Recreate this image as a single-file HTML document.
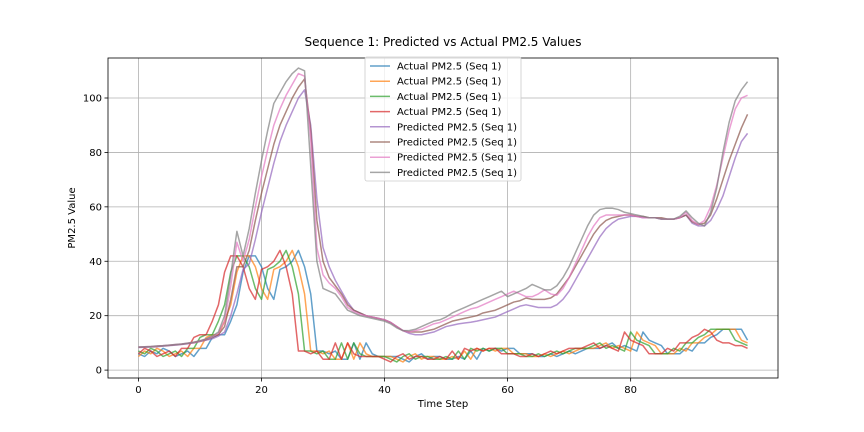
<!DOCTYPE html>
<html><head><meta charset="utf-8"><style>
body{margin:0;background:#fff;}
svg{display:block;font-family:"DejaVu Sans","Liberation Sans",sans-serif;}
</style></head><body>
<svg id="chart" width="864" height="432"></svg>
<script>
const timeSteps = Array.from({length:100},(_,i)=>i);
const xTicks = [0,20,40,60,80];
const yTicks = [0,20,40,60,80,100];
const actual1 = [6,5,7,6,8,7,5,6,7,5,8,8,12,13,13,18,24,36,42,42,38,30,26,37,38,40,44,38,28,7,7,6,7,4,4,10,4,10,6,5,5,5,5,4,3,5,6,4,5,5,4,4,5,4,7,4,8,7,8,7,8,8,6,6,6,5,5,6,5,6,7,6,7,8,8,8,9,10,8,9,8,7,14,11,10,9,6,6,6,8,7,10,10,12,13,15,15,15,15,11];
const actual2 = [5,7,6,8,7,5,6,7,5,8,8,12,13,13,18,24,36,42,42,38,30,26,37,38,40,44,38,28,7,7,6,7,4,4,10,4,10,6,5,5,5,5,4,3,5,6,4,5,5,4,4,5,4,7,4,8,7,8,7,8,8,6,6,6,5,5,6,5,6,7,6,7,8,8,8,9,10,8,9,8,7,14,11,10,9,6,6,6,8,7,10,10,12,13,15,15,15,15,11,10];
const actual3 = [7,6,8,7,5,6,7,5,8,8,12,13,13,18,24,36,42,42,38,30,26,37,38,40,44,38,28,7,7,6,7,4,4,10,4,10,6,5,5,5,5,4,3,5,6,4,5,5,4,4,5,4,7,4,8,7,8,7,8,8,6,6,6,5,5,6,5,6,7,6,7,8,8,8,9,10,8,9,8,7,14,11,10,9,6,6,6,8,7,10,10,12,13,15,15,15,15,11,10,9];
const actual4 = [6,8,7,5,6,7,5,8,8,12,13,13,18,24,36,42,42,38,30,26,37,38,40,44,38,28,7,7,6,7,4,4,10,4,10,6,5,5,5,5,4,3,5,6,4,5,5,4,4,5,4,7,4,8,7,8,7,8,8,6,6,6,5,5,6,5,6,7,6,7,8,8,8,9,10,8,9,8,7,14,11,10,9,6,6,6,8,7,10,10,12,13,15,14,11,10,10,9,9,8];
const pred1 = [8.3,8.4,8.5,8.6,8.8,9,9.2,9.4,9.7,10,10.5,11,11.5,12.5,14,20,28,37,39,48,58,67,76,84,90,95,100,103,90,63,45,38,33,29,25,22,21,20,19.5,19,18.5,17.5,16,14.5,13.5,13,13,13.5,14,15,16,16.5,17,17.3,17.6,18,18.5,19,19.5,20.5,21.5,22.5,23.5,24,23.5,23,23,23,24,26,29,33,37,41,45,49,52,54,55.5,56,56.5,56.5,56,56,56,55.5,55.5,55.5,56,57,54,53,53,55,59,64,71,78,84,87];
const pred2 = [8.4,8.5,8.6,8.7,8.9,9.1,9.3,9.5,9.8,10.1,10.6,11.2,12,13,16,26,38,38,44,55,65,74,83,90,95,100,104,107,88,55,40,34,31,28,24,22,21,20,19.5,19,18.5,17.5,16,14.5,14,14,14,14.5,15,16,17,18,18.5,19,19.5,20,21,21.5,22,23,24,25,25.5,26.5,26,26,26,26.5,28,31,34,38,42,46,50,53,55,56,56.5,57,57,56.5,56.5,56,56,56,55.5,55.5,56,57,54.5,53.5,54,57,63,70,77,83,89,94];
const pred3 = [8.5,8.6,8.7,8.8,9,9.2,9.4,9.6,9.9,10.2,10.7,11.4,12.2,13.5,18,31,47,40,48,60,71,81,90,96,101,105,109,108,85,45,35,32,30,27,23,21.5,20.5,20,19.5,19,18.5,17.5,16,14.5,14,14.5,15,16,17,17.5,18.5,19.5,20.5,21.5,22.5,23,24,25,26,27,28,29,28,27,27,28,29.5,28,27.5,30,34,39,44,49,53,56,57,57,57,57,57,56.5,56,56,56,55.5,55.5,55.5,56,58,55,53.5,55,60,68,78,88,96,100,101];
const pred4 = [8.5,8.6,8.7,8.9,9,9.2,9.4,9.6,9.9,10.3,10.8,11.5,12.5,14,20,35,51,42,52,65,77,88,98,102,106,109,111,110,75,40,30,29,28,25,22,21,20,19.5,19,18.5,18,17,15.5,14.5,14.5,15,16,17,18,18.5,19.5,21,22,23,24,25,26,27,28,29,27,28,29,30,31.5,30.5,29.5,29.5,31,34,38,43,48,53,57,59,59.5,59.5,59,58,57.5,57,56.5,56,56,55.5,55.5,55.5,56.5,58.5,56,54,53,58,67,80,91,99,103,106];
const seriesLabels = ["Actual PM2.5 (Seq 1)","Actual PM2.5 (Seq 1)","Actual PM2.5 (Seq 1)","Actual PM2.5 (Seq 1)","Predicted PM2.5 (Seq 1)","Predicted PM2.5 (Seq 1)","Predicted PM2.5 (Seq 1)","Predicted PM2.5 (Seq 1)"];
const seriesData = [actual1,actual2,actual3,actual4,pred1,pred2,pred3,pred4];
const colors = ["#1f77b4","#ff7f0e","#2ca02c","#d62728","#9467bd","#8c564b","#e377c2","#7f7f7f"];

const L=108,R=778,T=58,B=378;
const xMin=-4.95,xMax=103.95,yMin=-2.9,yMax=114.7;
const xs=v=>L+(v-xMin)/(xMax-xMin)*(R-L);
const ys=v=>B-(v-yMin)/(yMax-yMin)*(B-T);
const NS="http://www.w3.org/2000/svg";
const svg=document.getElementById('chart');
function mk(tag,attrs,parent){const e=document.createElementNS(NS,tag);for(const k in attrs)e.setAttribute(k,attrs[k]);(parent||svg).appendChild(e);return e;}

const grid=mk('g',{});


xTicks.forEach(t=>{mk('line',{x1:xs(t),x2:xs(t),y1:T,y2:B,stroke:'#b0b0b0','stroke-width':0.8},grid);});
yTicks.forEach(t=>{mk('line',{x1:L,x2:R,y1:ys(t),y2:ys(t),stroke:'#b0b0b0','stroke-width':0.8},grid);});

const xAxis=mk('g',{});


xTicks.forEach(t=>{mk('line',{x1:xs(t),x2:xs(t),y1:B,y2:B+3.5,stroke:'#000','stroke-width':0.8},xAxis);
 const tx=mk('text',{x:xs(t),y:B+15,'text-anchor':'middle','font-size':10},xAxis);tx.textContent=t;});
const yAxis=mk('g',{});


yTicks.forEach(t=>{mk('line',{x1:L-3.5,x2:L,y1:ys(t),y2:ys(t),stroke:'#000','stroke-width':0.8},yAxis);
 const tx=mk('text',{x:L-6,y:ys(t)+3.5,'text-anchor':'end','font-size':10},yAxis);tx.textContent=t;});

const lines=mk('g',{});


seriesData.forEach((arr,si)=>{
 const d=arr.map((v,i)=>(i?'L':'M')+xs(timeSteps[i]).toFixed(2)+','+ys(v).toFixed(2)).join('');
 const p=mk('path',{d:d,fill:'none',stroke:colors[si],'stroke-width':1.5,'stroke-opacity':0.7,'stroke-linejoin':'round'},lines);
 
 
});

const frame=mk('rect',{x:L,y:T,width:R-L,height:B-T,fill:'none',stroke:'#000','stroke-width':0.8});



const title=mk('text',{x:(L+R)/2,y:46,'text-anchor':'middle','font-size':12});
title.textContent='Sequence 1: Predicted vs Actual PM2.5 Values';


const xl=mk('text',{x:(L+R)/2,y:407,'text-anchor':'middle','font-size':10});
xl.textContent='Time Step';


const yl=mk('text',{x:0,y:0,'text-anchor':'middle','font-size':10,transform:'translate(75,218) rotate(-90)'});
yl.textContent='PM2.5 Value';



const legend=mk('g',{});


mk('rect',{x:365,y:57,width:156,height:124,rx:2,fill:'#fff','fill-opacity':0.8,stroke:'#ccc','stroke-width':0.8},legend);
seriesLabels.forEach((lab,i)=>{
 const y=66+i*15.2;
 const g=mk('g',{},legend);
 
 
 mk('line',{x1:370,x2:390,y1:y,y2:y,stroke:colors[i],'stroke-width':1.5,'stroke-opacity':0.7},g);
 const t=mk('text',{x:397,y:y+3.5,'font-size':10},g);t.textContent=lab;
});
</script>
</body></html>
